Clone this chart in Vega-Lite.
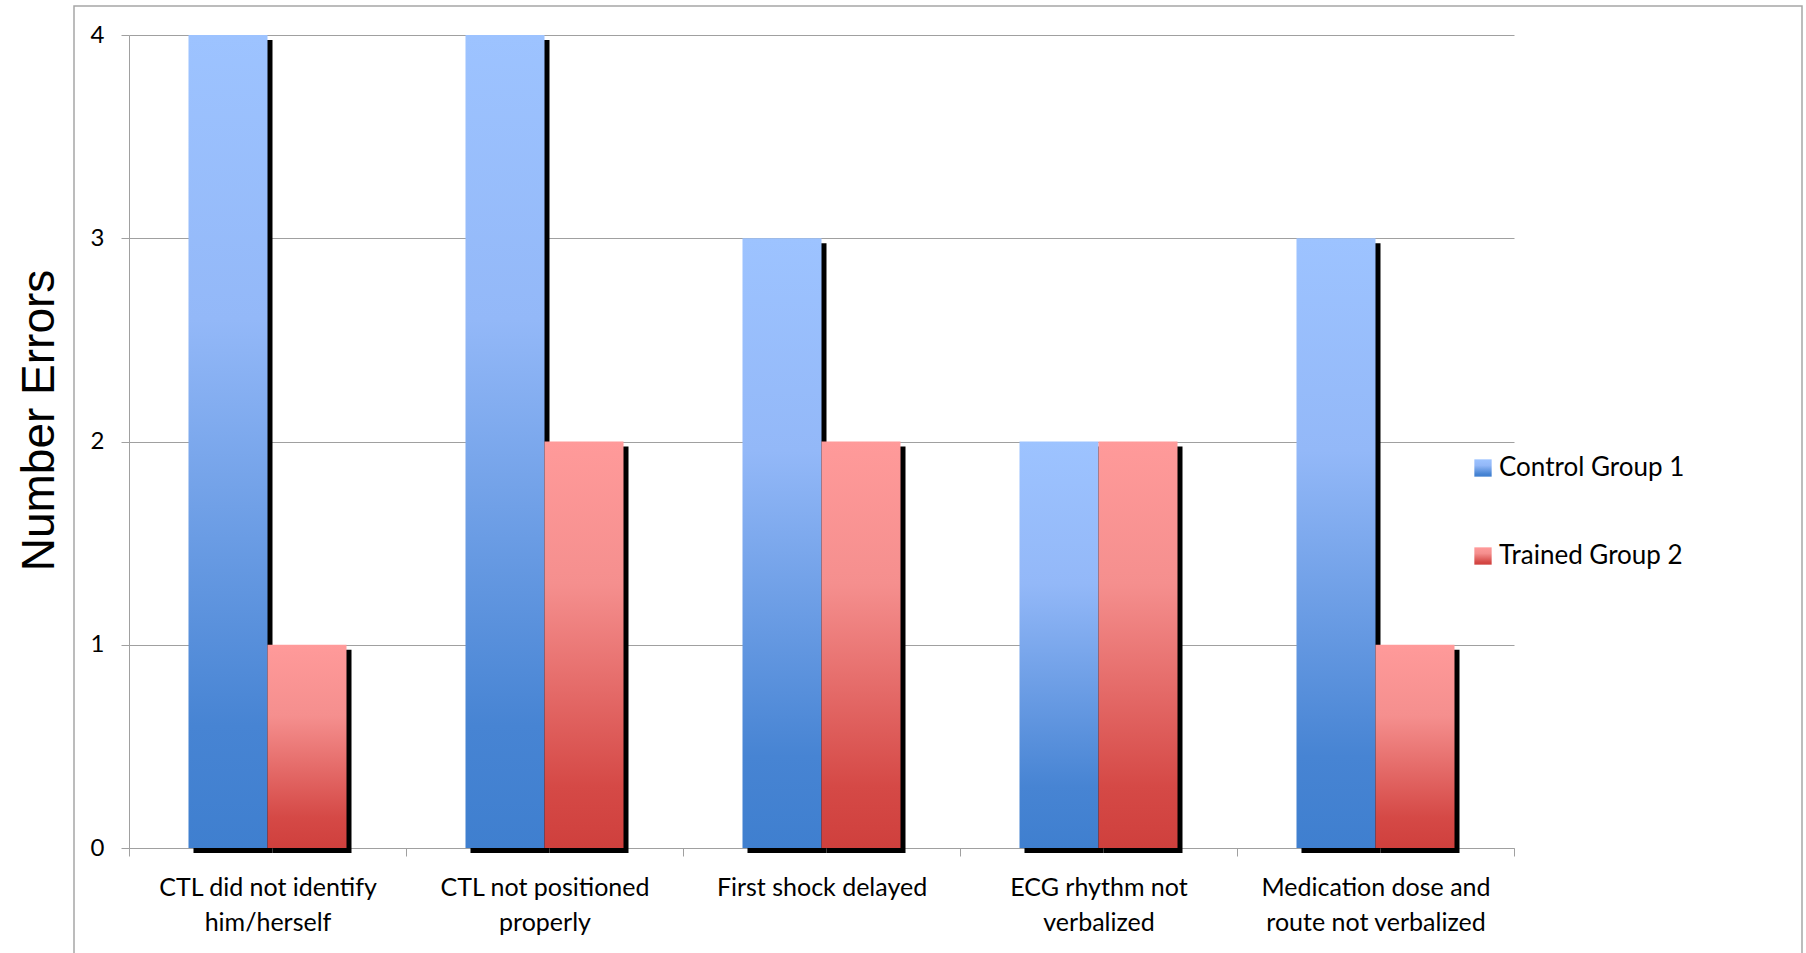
{
  "$schema": "https://vega.github.io/schema/vega-lite/v6.json",
  "width": 1728,
  "height": 949,
  "autosize": {"type": "none"},
  "padding": {"left": 74, "top": 6, "right": 4, "bottom": 0},
  "background": "white",
  "config": {
    "view": {"stroke": "#a6a6a6", "strokeWidth": 1.5},
    "axis": {
      "labelColor": "black",
      "labelFont": "Lato",
      "labelFontSize": 25,
      "tickColor": "#a0a0a0",
      "domainColor": "#a0a0a0",
      "gridColor": "#a0a0a0",
      "tickSize": 8
    }
  },
  "data": {
    "values": [
      {"category": "CTL did not identify him/herself", "group": "Control Group 1", "errors": 4},
      {"category": "CTL did not identify him/herself", "group": "Trained Group 2", "errors": 1},
      {"category": "CTL not positioned properly", "group": "Control Group 1", "errors": 4},
      {"category": "CTL not positioned properly", "group": "Trained Group 2", "errors": 2},
      {"category": "First shock delayed", "group": "Control Group 1", "errors": 3},
      {"category": "First shock delayed", "group": "Trained Group 2", "errors": 2},
      {"category": "ECG rhythm not verbalized", "group": "Control Group 1", "errors": 2},
      {"category": "ECG rhythm not verbalized", "group": "Trained Group 2", "errors": 2},
      {"category": "Medication dose and route not verbalized", "group": "Control Group 1", "errors": 3},
      {"category": "Medication dose and route not verbalized", "group": "Trained Group 2", "errors": 1}
    ]
  },
  "encoding": {
    "x": {
      "field": "category",
      "type": "nominal",
      "sort": null,
      "scale": {"range": [55, 1440], "paddingInner": 0, "paddingOuter": 0},
      "axis": {
        "title": null,
        "orient": "bottom",
        "offset": -107,
        "labelAngle": 0,
        "labelBaseline": "top",
        "labelPadding": 19,
        "labelLineHeight": 35,
        "labelLimit": 400,
        "tickBand": "extent",
        "grid": false,
        "labelExpr": "{'CTL did not identify him/herself': ['CTL did not identify', 'him/herself'], 'CTL not positioned properly': ['CTL not positioned', 'properly'], 'First shock delayed': 'First shock delayed', 'ECG rhythm not verbalized': ['ECG rhythm not', 'verbalized'], 'Medication dose and route not verbalized': ['Medication dose and', 'route not verbalized']}[datum.label]"
      }
    },
    "y": {
      "field": "errors",
      "type": "quantitative",
      "scale": {"domain": [0, 4], "range": [842, 29], "nice": false},
      "axis": {
        "title": "Number Errors",
        "titleFont": "Liberation Sans",
        "titleFontSize": 46,
        "titleFontWeight": "normal",
        "titleColor": "black",
        "titleX": -66,
        "titleY": 414,
        "offset": -55,
        "values": [0, 1, 2, 3, 4],
        "format": "d",
        "grid": true,
        "labelPadding": 17,
        "labelFontSize": 24
      }
    }
  },
  "layer": [
    {
      "mark": {"type": "bar", "color": "black", "yOffset": 5, "y2Offset": 3},
      "encoding": {
        "xOffset": {
          "field": "group",
          "type": "nominal",
          "scale": {"domain": ["Control Group 1", "Trained Group 2"], "paddingInner": 0, "paddingOuter": 0.753, "align": 0.542}
        }
      }
    },
    {
      "mark": {"type": "bar"},
      "encoding": {
        "xOffset": {
          "field": "group",
          "type": "nominal",
          "scale": {"domain": ["Control Group 1", "Trained Group 2"], "paddingInner": 0, "paddingOuter": 0.753, "align": 0.5}
        },
        "fill": {
          "field": "group",
          "type": "nominal",
          "scale": {
            "domain": ["Control Group 1", "Trained Group 2"],
            "range": [
              {"expr": "{gradient: 'linear', x1: 0, y1: 0, x2: 0, y2: 1, stops: [{offset: 0, color: '#9dc3ff'}, {offset: 0.35, color: '#93b8f8'}, {offset: 0.85, color: '#4784d3'}, {offset: 1, color: '#3f7fcf'}]}"},
              {"expr": "{gradient: 'linear', x1: 0, y1: 0, x2: 0, y2: 1, stops: [{offset: 0, color: '#ff9a9a'}, {offset: 0.35, color: '#f58f8e'}, {offset: 0.85, color: '#d54946'}, {offset: 1, color: '#cf403d'}]}"}
            ]
          },
          "legend": {
            "title": null,
            "orient": "none",
            "legendX": 1396,
            "legendY": 449,
            "padding": 0,
            "direction": "vertical",
            "symbolType": "square",
            "symbolSize": 300,
            "symbolStrokeWidth": 0,
            "labelFont": "Lato",
            "labelFontSize": 26,
            "labelColor": "black",
            "labelOffset": 3,
            "labelLimit": 300,
            "rowPadding": 62
          }
        }
      }
    }
  ],
  "resolve": {"scale": {"xOffset": "independent"}}
}
